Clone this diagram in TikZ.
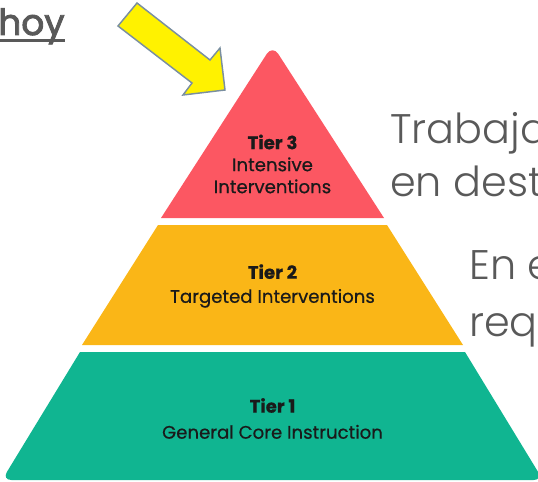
\documentclass[tikz,border=0pt]{standalone}
\usepackage{fontspec}
\setmainfont{Poppins}
\newfontfamily\lightfont{Poppins Light}
\newfontfamily\hoyfont{Poppins}[FakeBold=2.5]
\newfontfamily\tierfont{Poppins}[FakeBold=0.6]
\definecolor{tierred}{HTML}{FC5762}
\definecolor{tieryellow}{HTML}{FAB617}
\definecolor{tiergreen}{HTML}{10B591}
\definecolor{graytext}{HTML}{595959}
\definecolor{arrowedge}{HTML}{7A8FA0}
\definecolor{inkblack}{HTML}{1A1A1A}
\tikzset{
  tiertext/.style={align=center, text=inkblack, inner sep=0pt, font=\tierfont\fontsize{13.6}{18}\selectfont},
  sidetext/.style={anchor=base west, inner sep=0pt, text=graytext, font=\lightfont\fontsize{31}{36}\selectfont},
  blockarrow/.style={fill=yellow, draw=arrowedge, line width=1.1pt, line join=miter}
}
\begin{document}
\begin{tikzpicture}[x=0.75pt,y=-0.75pt]
\useasboundingbox (0,0) rectangle (538,481);
\begin{scope}
\clip (0,0) rectangle (538,481);
% pyramid tiers
\fill[tierred] (161,218) [rounded corners=8pt] -- (272.5,45) [sharp corners] -- (384,218) -- cycle;
\fill[tieryellow] (158,225) -- (387,225) -- (463,345) -- (82,345) -- cycle;
\fill[tiergreen] (80,352) -- (465,352) [rounded corners=7pt] -- (543,480) -- (2,480) [sharp corners] -- cycle;
% tier labels
\node[tiertext, font=\tierfont\fontsize{13.6}{16.5}\selectfont] (t3) at (272.5,164) {\textbf{Tier 3}\\Intensive\\Interventions};
\node[tiertext] (t2) at (272.5,286) {\textbf{Tier 2}\\Targeted Interventions};
\node[tiertext, font=\tierfont\fontsize{13.6}{19.5}\selectfont] (t1) at (272.5,418.5) {\textbf{Tier 1}\\General Core Instruction};
% side texts
\node[sidetext] (tr) at (390,143) {Trabaja};
\node[sidetext] (ed) at (390,196) {en dest};
\node[sidetext] (ee) at (469,279) {En e};
\node[sidetext] (rq) at (469,336) {requ};
% hoy
\node[anchor=base west, inner sep=0pt, text=graytext, font=\hoyfont\fontsize{27}{30}\selectfont] (hoy) at (-2,35) {hoy};
\coordinate (ul1) at (0,40.5);
\coordinate (ul2) at (65,40.5);
\draw[graytext, line width=2.2pt] (ul1) -- (ul2);
% arrow
\draw[blockarrow] (137,3) -- (210,60) -- (220,48) -- (225,90) -- (183,95) -- (192,83) -- (118,26) -- cycle;
\end{scope}
\end{tikzpicture}
\end{document}
